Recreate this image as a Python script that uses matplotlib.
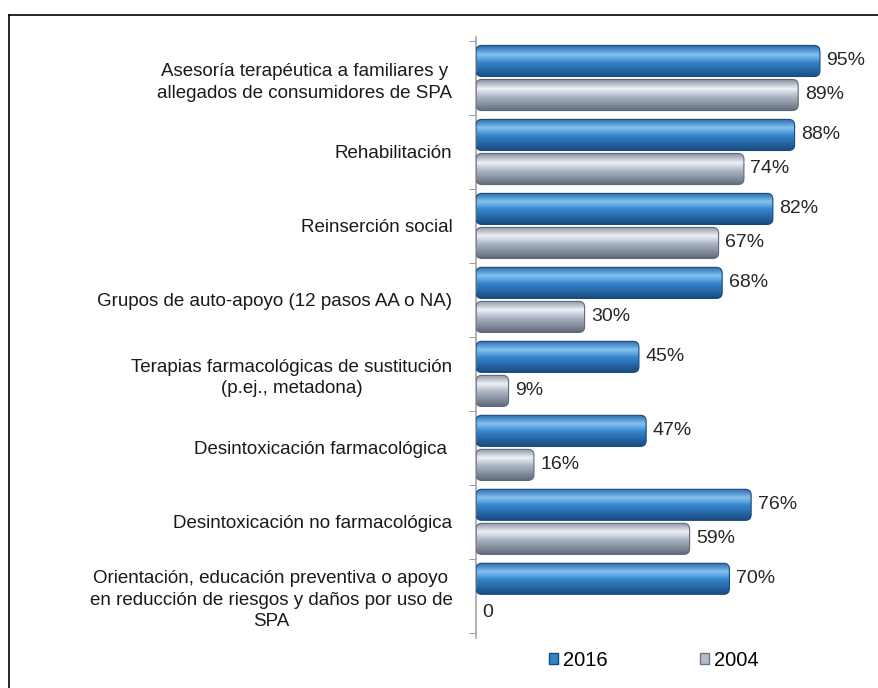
import numpy as np
import matplotlib
matplotlib.use("Agg")
import matplotlib.pyplot as plt
from matplotlib.patches import FancyBboxPatch, Patch
from matplotlib.lines import Line2D
from matplotlib.colors import LinearSegmentedColormap

plt.rcParams['font.family'] = ['Liberation Sans', 'DejaVu Sans']

categories = [
    "Asesoría terapéutica a familiares y\nallegados de consumidores de SPA",
    "Rehabilitación",
    "Reinserción social",
    "Grupos de auto-apoyo (12 pasos AA o NA)",
    "Terapias farmacológicas de sustitución\n(p.ej., metadona)",
    "Desintoxicación farmacológica ",
    "Desintoxicación no farmacológica",
    "Orientación, educación preventiva o apoyo\nen reducción de riesgos y daños por uso de\nSPA",
]
vals_2016 = [95, 88, 82, 68, 45, 47, 76, 70]
vals_2004 = [89, 74, 67, 30, 9, 16, 59, 0]
series_names = ["2016", "2004"]

fig = plt.figure(figsize=(8.79, 6.88), dpi=100)
ax = fig.add_axes([476 / 879, 50 / 688, 391 / 879, 601 / 688])

y = np.arange(len(categories))
h = 0.42
off = 0.23

# gradient colours for a glossy look
blue_cmap = LinearSegmentedColormap.from_list(
    "b", [(0, "#2464a6"), (0.3, "#84c2f0"), (0.55, "#3484cc"), (1, "#1a4d82")])
gray_cmap = LinearSegmentedColormap.from_list(
    "g", [(0, "#838ea0"), (0.3, "#eef1f5"), (0.55, "#adb6c4"), (1, "#626c7c")])

bars16 = ax.barh(y - off, vals_2016, height=h, color="#3484cc")
bars04 = ax.barh(y + off, vals_2004, height=h, color="#adb6c4")

grad = np.linspace(0, 1, 64).reshape(-1, 1)
for bars, cmap, edge in [(bars16, blue_cmap, "#174a7e"), (bars04, gray_cmap, "#5f6978")]:
    for r in bars:
        x0, y0 = r.get_x(), r.get_y()
        w, hh = r.get_width(), r.get_height()
        r.set_visible(False)
        if w <= 0:
            continue
        p = FancyBboxPatch((x0, y0), w, hh, boxstyle="round,pad=0,rounding_size=1.6",
                           mutation_aspect=0.049, facecolor="none", edgecolor=edge,
                           linewidth=0.8, zorder=3)
        ax.add_patch(p)
        im = ax.imshow(grad, cmap=cmap, aspect="auto", extent=(x0, x0 + w, y0 + hh, y0),
                       zorder=2, interpolation="bilinear")
        im.set_clip_path(p)

for yy, v in zip(y - off, vals_2016):
    ax.text(v + 1.8, yy, f"{v}%", va="center", ha="left", fontsize=14, color="#262626")
for yy, v in zip(y + off, vals_2004):
    ax.text(v + 1.8, yy, f"{v}%" if v else "0", va="center", ha="left", fontsize=14,
            color="#262626")

ax.set_xlim(0, 108)
ax.set_ylim(7.57, -0.554)
ax.set_yticks(y)
ax.set_yticklabels(categories, fontsize=13.5, linespacing=1.35, multialignment="center",
                   color="#1a1a1a")
ax.set_yticks(np.arange(len(categories) + 1) - 0.5, minor=True)
ax.tick_params(axis="y", which="major", length=0, pad=17)
ax.tick_params(axis="y", which="minor", length=5, color="#8c8c8c", direction="out")
ax.set_xticks([])
for s in ["top", "right", "bottom"]:
    ax.spines[s].set_visible(False)
ax.spines["left"].set_color("#a6a6a6")
ax.spines["left"].set_linewidth(1.2)

handles = [Patch(facecolor="#3484cc", edgecolor="#174a7e"),
           Patch(facecolor="#b5bdc9", edgecolor="#6b7585")]
fig.legend(handles, series_names, loc="center", bbox_to_anchor=(654 / 879, 1 - 660 / 688),
           ncol=2, frameon=False, fontsize=14.5, handlelength=0.45, handleheight=0.45,
           handletextpad=0.25, columnspacing=4.6)

# outer frame (left and top edges visible)
fig.add_artist(Line2D([9 / 879, 9 / 879], [0, 1 - 15 / 688], color="black", linewidth=1.2))
fig.add_artist(Line2D([9 / 879, 1], [1 - 15 / 688, 1 - 15 / 688], color="black", linewidth=1.2))

fig.savefig("out.png", dpi=100)
